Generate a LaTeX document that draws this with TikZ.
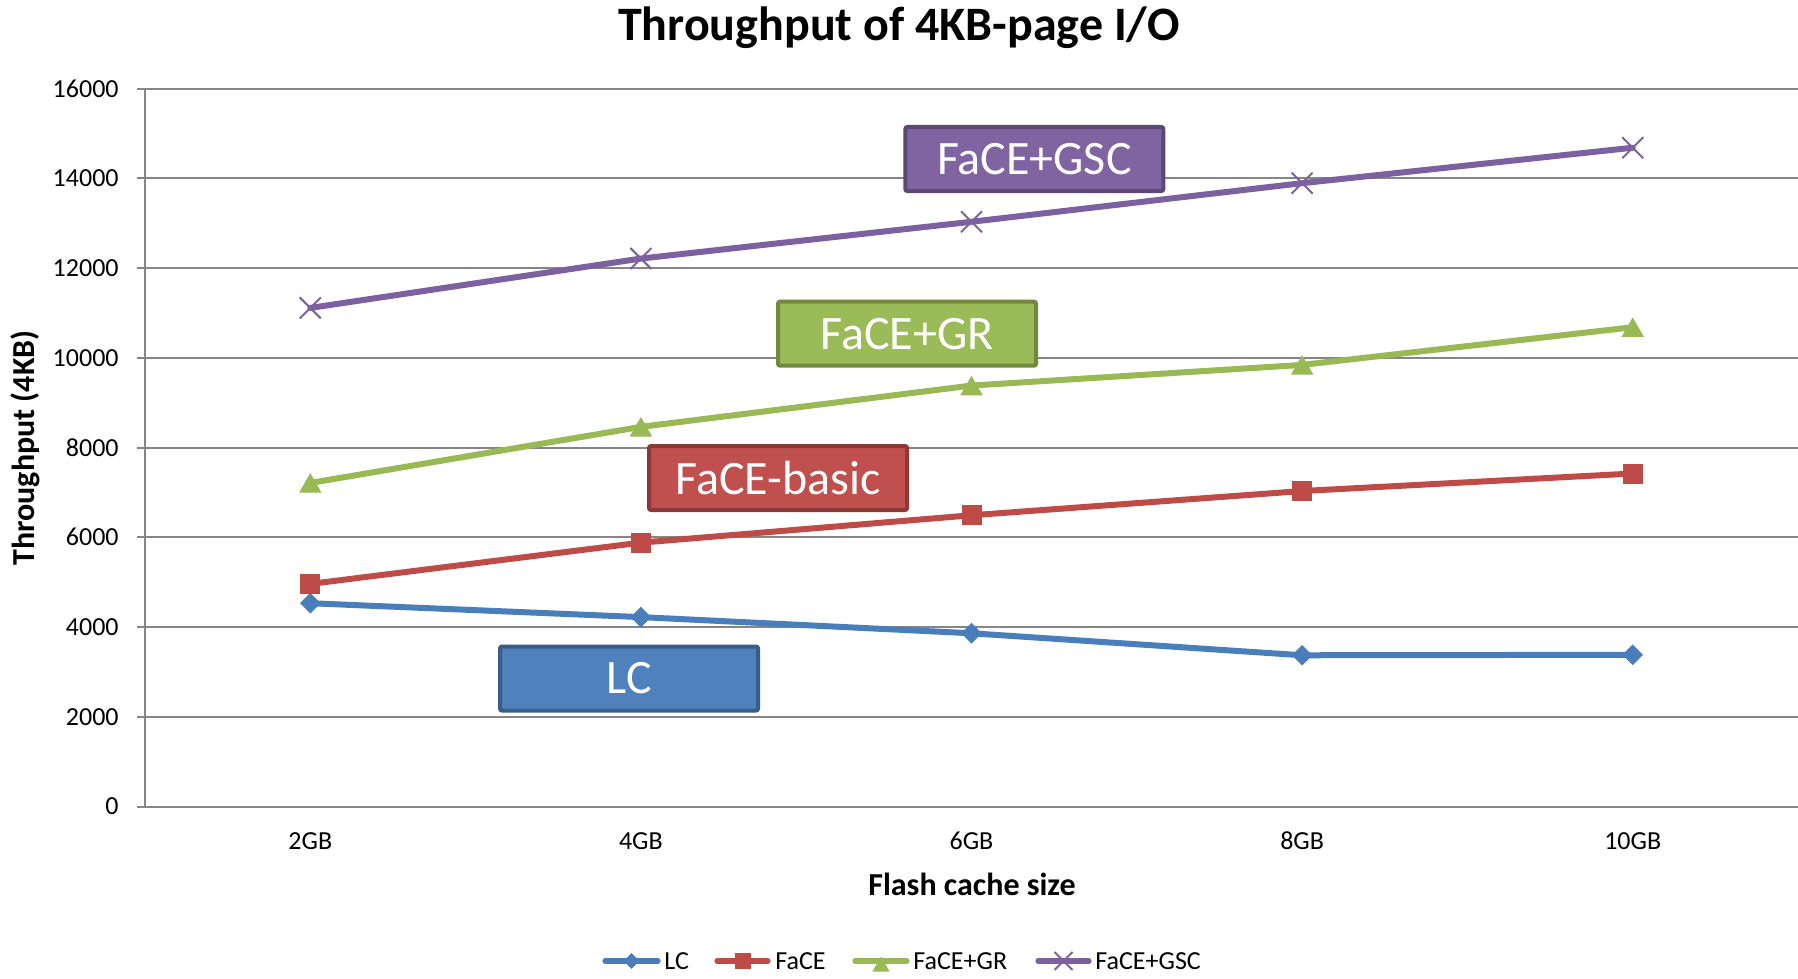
\documentclass[tikz,border=0pt]{standalone}
\usepackage{fontspec}
\setmainfont{Carlito}
\usetikzlibrary{shapes.geometric,shapes.misc,calc}
\definecolor{gridc}{HTML}{868686}
\definecolor{lcc}{HTML}{4A7EBB}
\definecolor{facec}{HTML}{BE4B48}
\definecolor{grc}{HTML}{98B954}
\definecolor{gscc}{HTML}{7D60A0}
\definecolor{lcfill}{HTML}{4F81BD}
\definecolor{lcbord}{HTML}{385D8A}
\definecolor{facefill}{HTML}{C0504D}
\definecolor{facebord}{HTML}{8C3836}
\definecolor{grfill}{HTML}{9BBB59}
\definecolor{grbord}{HTML}{71893F}
\definecolor{gscfill}{HTML}{8064A2}
\definecolor{gscbord}{HTML}{5C4776}
\tikzset{
  gridline/.style={draw=gridc, line width=1pt},
  ticklab/.style={font=\fontsize{13}{15}\selectfont, anchor=east, inner sep=0pt},
  catlab/.style={font=\fontsize{13}{15}\selectfont, inner sep=0pt},
  axtitle/.style={font=\bfseries\fontsize{16}{19}\selectfont, inner sep=0pt},
  series/.style={line width=3pt, line join=round, line cap=round},
  lcm/.style={diamond, aspect=1, fill=lcc, inner sep=0pt, minimum size=10.5pt},
  facem/.style={rectangle, fill=facec, inner sep=0pt, minimum size=10pt},
  grm/.style={regular polygon, regular polygon sides=3, fill=grc, inner sep=0pt, minimum size=13pt, yshift=-1.6pt},
  gscm/.style={cross out, draw=gscc, line width=1pt, inner sep=0pt, minimum size=9.5pt},
  lglcm/.style={lcm, minimum size=8pt},
  lgfacem/.style={facem, minimum size=8pt},
  lggrm/.style={grm, minimum size=10pt, yshift=-1.2pt},
  lggscm/.style={gscm, minimum size=8pt},
  labbox/.style={rectangle, rounded corners=1pt, line width=2pt, inner sep=0pt,
    minimum width=129pt, minimum height=32pt, text=white, font=\fontsize{24}{28}\selectfont},
  legtext/.style={font=\fontsize{13}{15}\selectfont, anchor=west, inner sep=0pt},
  legline/.style={line width=2.6pt, line cap=round},
}
\begin{document}
\begin{tikzpicture}[x=0.5pt,y=-0.5pt]
\useasboundingbox (0,0) rectangle (1798,979);
\fill[white] (0,0) rectangle (1798,979);
% title
\node[font=\bfseries\fontsize{24}{28}\selectfont, inner sep=0pt] (title) at (899,28) {Throughput of 4KB-page I/O};
% grid and y ticks
\foreach \i [evaluate=\i as \v using {int(2000*\i)}, evaluate=\i as \yy using {806.5-89.74*\i}] in {0,...,8}{
  \draw[gridline] (137,\yy) -- (1798,\yy);
  \node[ticklab] (t\i) at (119,\yy) {\v};
}
\draw[gridline] (145,88.6) -- (145,806.5);
% category labels
\node[catlab] (c1) at (310.3,841) {2GB};
\node[catlab] (c2) at (640.9,841) {4GB};
\node[catlab] (c3) at (971.5,841) {6GB};
\node[catlab] (c4) at (1302.1,841) {8GB};
\node[catlab] (c5) at (1632.7,841) {10GB};
% axis titles
\node[axtitle] (xt) at (972,884) {Flash cache size};
\node[axtitle, rotate=90] (yt) at (25,448) {Throughput (4KB)};
% data coordinates
\coordinate (lc1) at (310.3,{806.5-0.04487*4530});
\coordinate (lc2) at (640.9,{806.5-0.04487*4220});
\coordinate (lc3) at (971.5,{806.5-0.04487*3860});
\coordinate (lc4) at (1302.1,{806.5-0.04487*3370});
\coordinate (lc5) at (1632.7,{806.5-0.04487*3380});
\coordinate (fa1) at (310.3,{806.5-0.04487*4960});
\coordinate (fa2) at (640.9,{806.5-0.04487*5880});
\coordinate (fa3) at (971.5,{806.5-0.04487*6490});
\coordinate (fa4) at (1302.1,{806.5-0.04487*7030});
\coordinate (fa5) at (1632.7,{806.5-0.04487*7420});
\coordinate (gr1) at (310.3,{806.5-0.04487*7210});
\coordinate (gr2) at (640.9,{806.5-0.04487*8460});
\coordinate (gr3) at (971.5,{806.5-0.04487*9380});
\coordinate (gr4) at (1302.1,{806.5-0.04487*9840});
\coordinate (gr5) at (1632.7,{806.5-0.04487*10680});
\coordinate (gs1) at (310.3,{806.5-0.04487*11110});
\coordinate (gs2) at (640.9,{806.5-0.04487*12210});
\coordinate (gs3) at (971.5,{806.5-0.04487*13030});
\coordinate (gs4) at (1302.1,{806.5-0.04487*13890});
\coordinate (gs5) at (1632.7,{806.5-0.04487*14680});
% LC
\draw[series, lcc] (lc1) -- (lc2) -- (lc3) -- (lc4) -- (lc5);
\foreach \i in {1,...,5}{ \node[lcm] (lcm\i) at (lc\i) {}; }
% FaCE
\draw[series, facec] (fa1) -- (fa2) -- (fa3) -- (fa4) -- (fa5);
\foreach \i in {1,...,5}{ \node[facem] (fam\i) at (fa\i) {}; }
% FaCE+GR
\draw[series, grc] (gr1) -- (gr2) -- (gr3) -- (gr4) -- (gr5);
\foreach \i in {1,...,5}{ \node[grm] (grm\i) at (gr\i) {}; }
% FaCE+GSC
\draw[series, gscc] (gs1) -- (gs2) -- (gs3) -- (gs4) -- (gs5);
\foreach \i in {1,...,5}{ \node[gscm] (gsm\i) at (gs\i) {}; }
% label boxes
\node[labbox, fill=gscfill, draw=gscbord] (bgsc) at (1034.3,159) {FaCE+GSC};
\node[labbox, fill=grfill, draw=grbord] (bgr) at (907,333.7) {FaCE+GR};
\node[labbox, fill=facefill, draw=facebord] (bface) at (778,478) {FaCE-basic};
\node[labbox, fill=lcfill, draw=lcbord] (blc) at (629,678.5) {LC};
% legend
\coordinate (la1) at (605,961); \coordinate (la2) at (658,961);
\coordinate (lb1) at (717,961); \coordinate (lb2) at (768,961);
\coordinate (lg1) at (855,961); \coordinate (lg2) at (907,961);
\coordinate (ls1) at (1038,961); \coordinate (ls2) at (1089,961);
\draw[legline, lcc] (la1) -- (la2);
\node[lglcm] (lgm1) at ($ (la1)!0.5!(la2) $) {};
\node[legtext] (lt1) at (664,961) {LC};
\draw[legline, facec] (lb1) -- (lb2);
\node[lgfacem] (lgm2) at ($ (lb1)!0.5!(lb2) $) {};
\node[legtext] (lt2) at (775,961) {FaCE};
\draw[legline, grc] (lg1) -- (lg2);
\node[lggrm] (lgm3) at ($ (lg1)!0.5!(lg2) $) {};
\node[legtext] (lt3) at (913,961) {FaCE+GR};
\draw[legline, gscc] (ls1) -- (ls2);
\node[lggscm] (lgm4) at ($ (ls1)!0.5!(ls2) $) {};
\node[legtext] (lt4) at (1095,961) {FaCE+GSC};
\end{tikzpicture}
\end{document}
